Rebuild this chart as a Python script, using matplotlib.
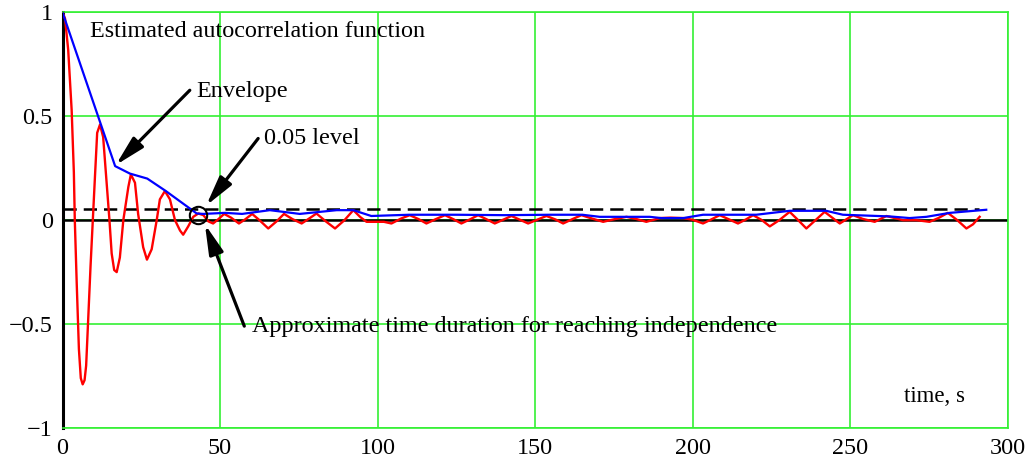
import matplotlib
matplotlib.use("Agg")
import matplotlib.pyplot as plt

plt.rcParams['font.family'] = ['Liberation Serif', 'DejaVu Serif']

# --- estimated autocorrelation (red)
acf_t = [0, 0.8, 1.8, 2.9, 3.6, 3.9, 4.5, 5.2, 5.8, 6.4, 7.0, 7.5, 8.2, 8.9, 9.6,
         10.3, 11.0, 11.9, 12.9, 14.0, 14.9, 15.6, 16.4, 17.2, 18.2, 19.3, 20.9,
         21.7, 23.0, 24.0, 25.6, 26.8, 28.3, 29.9, 30.9, 32.5, 34.1, 35.7, 37.3,
         38.3, 39.9, 41.5, 43.1, 44.7, 46.3, 47.8, 49.5, 51.3, 53.5, 56.0, 58.0,
         60.2, 62.5, 65.3, 68.0, 70.3, 73.0, 75.9, 78.5, 80.6, 83.5, 86.5, 89.5,
         92.3, 94.5, 96.5, 99.7, 102.0, 104.4, 107.5, 110.2, 113.0, 115.5, 118.5,
         121.4, 124.0, 126.6, 129.5, 131.9, 134.5, 137.2, 140.0, 142.5, 145.0,
         147.8, 150.8, 153.6, 156.5, 158.9, 162.0, 164.7, 168.0, 171.6, 175.0,
         179.0, 182.0, 185.3, 189.6, 193.0, 197.0, 200.0, 203.3, 206.0, 208.6,
         211.5, 214.4, 217.0, 219.2, 222.0, 224.5, 227.5, 230.8, 233.5, 236.1,
         239.0, 241.9, 244.5, 246.7, 248.8, 250.9, 254.0, 257.8, 261.5, 266.8,
         271.0, 275.2, 278.0, 281.0, 284.0, 286.9, 289.0, 291.1]
acf_v = [1.0, 0.97, 0.82, 0.53, 0.23, 0.0, -0.30, -0.62, -0.76, -0.79, -0.77,
         -0.70, -0.46, -0.22, 0.0, 0.21, 0.42, 0.46, 0.40, 0.18, 0.0, -0.16,
         -0.24, -0.25, -0.18, 0.0, 0.16, 0.22, 0.18, 0.03, -0.13, -0.19, -0.14,
         0.0, 0.10, 0.14, 0.10, 0.0, -0.05, -0.07, -0.03, 0.016, 0.032, 0.024,
         -0.006, -0.016, 0.005, 0.03, 0.012, -0.016, 0.004, 0.03, 0.0, -0.04,
         -0.005, 0.03, 0.005, -0.016, 0.01, 0.032, -0.005, -0.04, 0.0, 0.048,
         0.015, -0.008, -0.008, -0.008, -0.016, 0.008, 0.024, 0.005, -0.016,
         0.005, 0.024, 0.005, -0.016, 0.005, 0.024, 0.005, -0.016, 0.003, 0.02,
         0.003, -0.016, 0.003, 0.02, 0.003, -0.016, 0.006, 0.024, 0.008, -0.008,
         0.004, 0.016, 0.006, -0.008, 0.01, 0.012, 0.01, 0.002, -0.016, 0.004,
         0.024, 0.004, -0.016, 0.004, 0.024, 0.0, -0.03, 0.0, 0.04, 0.0, -0.04,
         0.0, 0.04, 0.01, -0.016, 0.004, 0.024, 0.006, -0.008, 0.02, 0.0, 0.0,
         -0.008, 0.01, 0.035, 0.0, -0.04, -0.02, 0.016]

# --- envelope (blue)
env_t = [0, 16.7, 21.4, 26.9, 32.8, 42.6, 44.7, 51.6, 57.0, 65.8, 75.3, 87.0,
         92.3, 98.0, 110.0, 125.0, 140.0, 155.0, 165.0, 170.5, 186.4, 190.0,
         197.0, 203.3, 220.2, 230.8, 242.4, 247.7, 262.5, 268.9, 274.2, 281.6,
         293.2]
env_v = [1.0, 0.26, 0.224, 0.20, 0.14, 0.032, 0.03, 0.035, 0.03, 0.048, 0.03,
         0.048, 0.048, 0.02, 0.026, 0.026, 0.024, 0.026, 0.026, 0.016, 0.016,
         0.01, 0.01, 0.026, 0.026, 0.045, 0.045, 0.026, 0.018, 0.01, 0.016,
         0.035, 0.05]

level = 0.056          # dashed "0.05 level" as drawn
level_end = 291
cross_t, cross_v = 43.1, 0.024   # circled point

x_ticks = [0, 50, 100, 150, 200, 250, 300]
y_ticks = [-1, -0.5, 0, 0.5, 1]
y_labels = ["\u22121", "\u22120.5", "0", "0.5", "1"]

green = "#33f033"
fs = 17.4

fig = plt.figure(figsize=(10.35, 4.61), dpi=100)
ax = fig.add_axes([0.0604, 0.0716, 0.9132, 0.9017])

ax.set_xlim(0, 300)
ax.set_ylim(-1, 1)
ax.set_xticks(x_ticks)
ax.set_yticks(y_ticks)
ax.set_yticklabels(y_labels)
ax.grid(True, color=green, lw=1.2)
ax.set_axisbelow(True)
ax.tick_params(length=0, labelsize=fs, pad=7)

for side in ["top", "right", "bottom"]:
    ax.spines[side].set_color(green)
    ax.spines[side].set_linewidth(1.2)
ax.spines["left"].set_color("black")
ax.spines["left"].set_linewidth(2.2)

ax.axhline(0, color="black", lw=1.8, zorder=2)
ax.plot([0, level_end], [level, level], color="black", lw=1.8,
        dashes=(5.3, 2.8), zorder=2)

ax.plot(acf_t, acf_v, color="red", lw=1.7, zorder=3)
ax.plot(env_t, env_v, color="blue", lw=1.6, zorder=4)

ax.plot([cross_t], [cross_v], "o", ms=12.5, mfc="none", mec="black",
        mew=1.5, zorder=5)

# annotations
arrow = dict(arrowstyle="-|>,head_length=0.9,head_width=0.22", color="black",
             lw=2.3, mutation_scale=20, shrinkA=0, shrinkB=0)

ax.text(8.7, 0.91, "Estimated autocorrelation function", fontsize=fs,
        ha="left", va="center")

ax.annotate("", xy=(16.9, 0.265), xytext=(40.4, 0.625), arrowprops=arrow)
ax.text(42.4, 0.617, "Envelope", fontsize=fs, ha="left", va="center")

ax.annotate("", xy=(45.6, 0.07), xytext=(62.1, 0.393), arrowprops=arrow)
ax.text(64.0, 0.393, "0.05 level", fontsize=fs, ha="left", va="center")

ax.annotate("", xy=(45.2, -0.02), xytext=(57.7, -0.51), arrowprops=arrow)
ax.text(60.0, -0.51, "Approximate time duration for reaching independence",
        fontsize=fs, ha="left", va="center")

ax.text(267.0, -0.85, "time, s", fontsize=16.5, ha="left", va="center")

fig.savefig("out.png", dpi=100)
